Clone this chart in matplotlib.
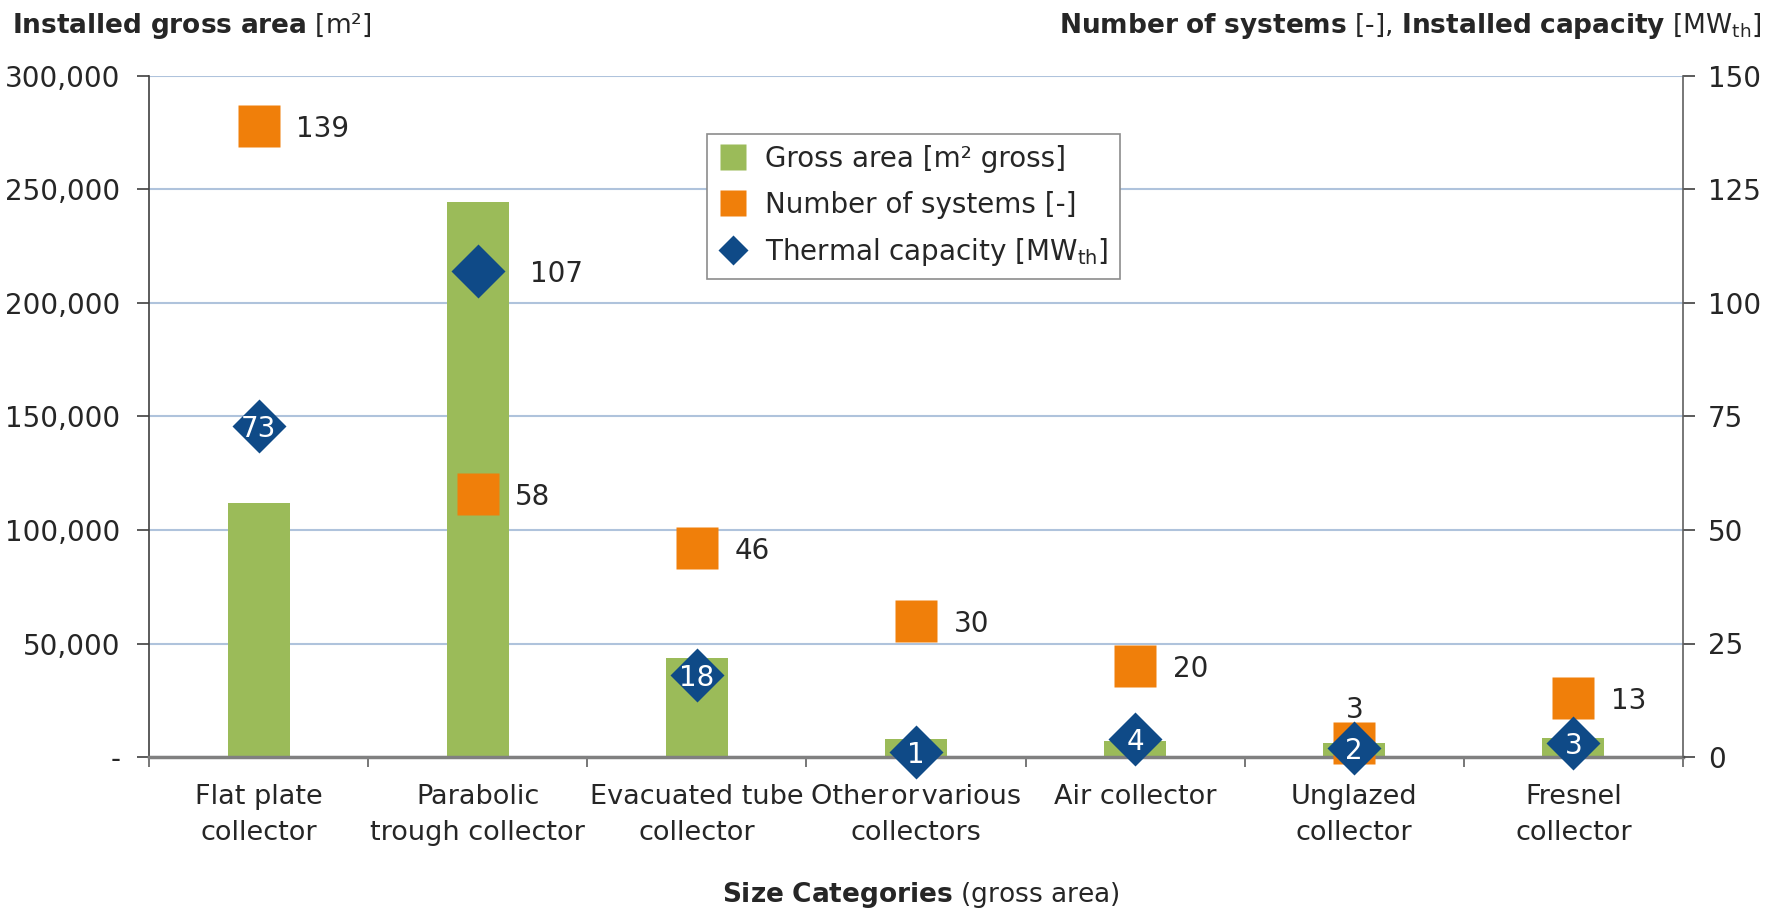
import numpy as np
import matplotlib
matplotlib.use('Agg')
import matplotlib.pyplot as plt
from matplotlib.lines import Line2D
from matplotlib.ticker import FuncFormatter, MultipleLocator

# data
categories = ['Flat plate\ncollector', 'Parabolic\ntrough collector', 'Evacuated tube\ncollector',
              'Other\u200aor\u200avarious\ncollectors', 'Air collector', 'Unglazed\ncollector',
              'Fresnel\ncollector']
gross_area = [112000, 244500, 43600, 7900, 7200, 6300, 8300]
num_systems = [139, 58, 46, 30, 20, 3, 13]
capacity = [73, 107, 18, 1, 4, 2, 3]

GREEN = '#9BBB59'
ORANGE = '#F07F0A'
BLUE = '#0F4A87'
TXT = '#262626'

plt.rcParams['font.family'] = ['DejaVu Sans']
plt.rcParams['mathtext.fontset'] = 'dejavusans'
plt.rcParams['text.color'] = TXT

W, H = 1779, 911
fig = plt.figure(figsize=(W / 100, H / 100), dpi=100)
ax = fig.add_axes([149 / W, 1 - 757 / H, (1683 - 149) / W, (757 - 76) / H])

x = np.arange(len(categories))
ax.bar(x, gross_area, width=0.283, color=GREEN, zorder=2)
ax.set_xlim(-0.5, len(categories) - 0.5)
ax.set_ylim(0, 300000)
ax.yaxis.set_major_locator(MultipleLocator(50000))
ax.yaxis.set_major_formatter(FuncFormatter(lambda v, p: '-' if v == 0 else f'{v:,.0f}'))
ax.grid(axis='y', color='#AFC3DC', lw=1.5)
ax.set_axisbelow(True)

# ticks between categories, labels at the centres
ax.set_xticks(np.arange(-0.5, len(categories), 1))
ax.set_xticklabels([])
ax.set_xticks(x, minor=True)
ax.set_xticklabels(categories, minor=True)
ax.tick_params(axis='x', which='minor', length=0, pad=19.5, labelsize=19.5, labelcolor=TXT)
ax.tick_params(axis='x', which='major', length=7, width=1.2, color='#606060', direction='out')
ax.tick_params(axis='y', length=8.6, width=1.2, color='#404040', pad=12, labelsize=20, labelcolor=TXT)
for t in ax.get_xticklabels(minor=True):
    t.set_linespacing(1.49)

ax.spines['top'].set_visible(False)
ax.spines['right'].set_visible(False)
ax.spines['left'].set_color('#404040')
ax.spines['left'].set_linewidth(1.2)
ax.spines['bottom'].set_color('#808080')
ax.spines['bottom'].set_linewidth(2.5)
ax.spines['bottom'].set_zorder(3)

ax2 = ax.twinx()
ax2.set_ylim(0, 150)
ax2.yaxis.set_major_locator(MultipleLocator(25))
ax2.tick_params(axis='y', length=8.6, width=1.2, color='#404040', pad=9.5, labelsize=20, labelcolor=TXT)
for s in ['top', 'left', 'bottom']:
    ax2.spines[s].set_visible(False)
ax2.spines['right'].set_color('#606060')
ax2.spines['right'].set_linewidth(1.2)

ax2.plot(x, num_systems, ls='none', marker='s', ms=30, color=ORANGE, mec='none',
         zorder=3, clip_on=False)
ax2.plot(x, capacity, ls='none', marker='D', ms=27, color=BLUE, mec='none',
         zorder=4, clip_on=False)

for i, n in enumerate(num_systems):
    if i == 5:
        ax2.annotate(str(n), (x[i], n), xytext=(0, 26), textcoords='offset points',
                     ha='center', va='center_baseline', fontsize=20, zorder=5)
    else:
        ax2.annotate(str(n), (x[i], n), xytext=(27, 0), textcoords='offset points',
                     ha='left', va='center_baseline', fontsize=20, zorder=5)

for i, c in enumerate(capacity):
    if i == 1:
        ax2.annotate(str(c), (x[i], c), xytext=(37.8, 0), textcoords='offset points',
                     ha='left', va='center_baseline', fontsize=20, zorder=5)
    else:
        ax2.annotate(str(c), (x[i], c), ha='center', va='center_baseline', fontsize=20,
                     color='white', zorder=5)

handles = [
    Line2D([], [], ls='none', marker='s', ms=19, color=GREEN, mec='none'),
    Line2D([], [], ls='none', marker='s', ms=19, color=ORANGE, mec='none'),
    Line2D([], [], ls='none', marker='D', ms=15, color=BLUE, mec='none'),
]
labels = ['Gross area [m² gross]', 'Number of systems [-]', r'Thermal capacity [$\mathregular{MW_{th}}$]']
leg = ax2.legend(handles, labels, loc='upper left', bbox_to_anchor=(707 / W, 1 - 134 / H),
                 bbox_transform=fig.transFigure, borderaxespad=0, fontsize=20,
                 fancybox=False, framealpha=1, edgecolor='#8C8C8C',
                 labelspacing=0.63, borderpad=0.4, handlelength=1.1, handletextpad=0.6)
leg.get_frame().set_linewidth(1.2)
leg.set_zorder(10)

fig.text(12 / W, 1 - 26 / H, r'$\mathbf{Installed\ gross\ area}$ [m²]',
         ha='left', va='center', fontsize=19)
fig.text(1762 / W, 1 - 26 / H,
         r'$\mathbf{Number\ of\ systems}$ [-], $\mathbf{Installed\ capacity}$ [$\mathregular{MW_{th}}$]',
         ha='right', va='center', fontsize=19)
fig.text(921 / W, 1 - 895 / H, r'$\mathbf{Size\ Categories}$ (gross area)',
         ha='center', va='center', fontsize=19)

fig.savefig('out.png', dpi=100)
